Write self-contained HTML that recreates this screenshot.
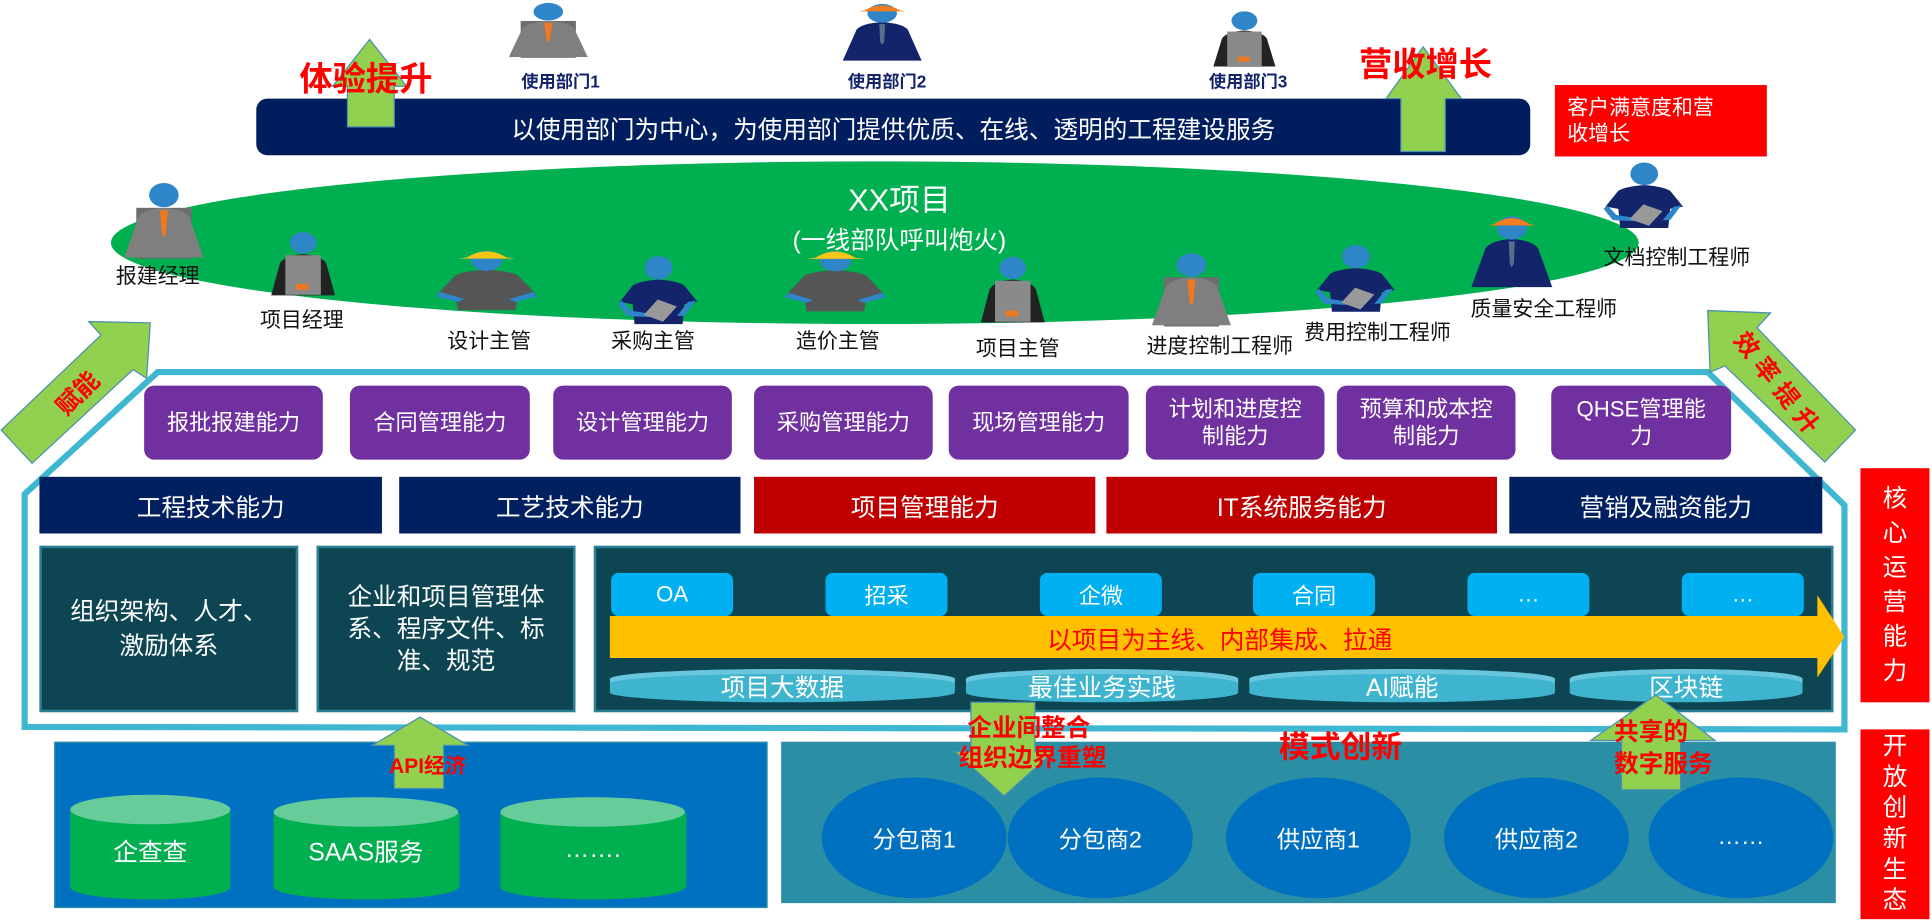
<!DOCTYPE html>
<html><head><meta charset="utf-8"><style>
html,body{margin:0;padding:0;width:1932px;height:924px;overflow:hidden;background:#fff}
#w{position:absolute;left:0;top:0;width:1568px;height:750px;transform:scale(1.2321);transform-origin:0 0;font-family:"Liberation Sans","Noto Sans CJK SC",sans-serif}
.a{position:absolute;display:flex;align-items:center;justify-content:center;text-align:center;color:#fff;box-sizing:border-box}
.p{background:#7030a0;border-radius:8px;font-size:18px;line-height:22px;top:313px;height:60px}
.r2{top:387px;height:46px;font-size:20px}
.c{background:#00b0f0;border-radius:6px;top:465px;height:35px;width:99px;font-size:18px}
.d{top:543px;height:27px;font-size:20px;background:#3fb4cf;border-radius:50%/8px;box-shadow:inset 0 4px 0 #69c6dc}
.t{position:absolute;white-space:nowrap;transform:translate(-50%,-50%)}
.lb{font-size:17px;color:#111}
.red{color:#ff0000;font-weight:bold}
.el{position:absolute;top:631px;width:150px;height:98px;border-radius:50%;background:#0070c0;color:#fff;font-size:19px;display:flex;align-items:center;justify-content:center}
</style></head><body><div id="w">
<svg width="1568" height="750" style="position:absolute;left:0;top:0">
<defs>
<symbol id="gs" viewBox="0 0 100 120" preserveAspectRatio="none"><rect x="22" y="40" width="56" height="80" fill="#6d6d6d"/><path d="M10,118 L24,55 Q30,42 50,40 Q70,42 76,55 L90,118 Z" fill="#7f7f7f"/><path d="M46,44 L54,44 L52,80 L50,86 L48,80Z" fill="#f07820"/><ellipse cx="50" cy="20" rx="15" ry="19" fill="#2e86c8"/></symbol>
<symbol id="ns" viewBox="0 0 100 120" preserveAspectRatio="none"><path d="M10,118 L24,55 Q30,42 50,40 Q70,42 76,55 L90,118 Z" fill="#14246a"/><path d="M47,44 L53,44 L52,80 L50,86 L48,80Z" fill="#55708a"/><ellipse cx="50" cy="22" rx="15" ry="19" fill="#2e86c8"/><path d="M32,16 Q50,-4 68,16 L74,18 L26,18Z" fill="#f47d20"/></symbol>
<symbol id="vs" viewBox="0 0 100 120" preserveAspectRatio="none"><path d="M14,115 L24,58 Q30,44 50,42 Q70,44 76,58 L86,115 Z" fill="#222"/><rect x="30" y="44" width="40" height="70" fill="#8a8a8a"/><rect x="42" y="95" width="14" height="10" fill="#f07820"/><ellipse cx="50" cy="22" rx="15" ry="19" fill="#2e86c8"/></symbol>
<symbol id="gp" viewBox="0 0 100 120" preserveAspectRatio="none"><path d="M6,85 L22,52 Q30,44 50,42 Q70,44 78,52 L94,85 L78,90 L76,115 L24,115 L22,90Z" fill="#555"/><path d="M8,82 L30,95 L24,100 L4,90Z M92,82 L70,95 L76,100 L96,90Z" fill="#2e86c8"/><ellipse cx="50" cy="26" rx="14" ry="18" fill="#2e86c8"/><path d="M32,20 Q50,-2 68,20 L76,22 L24,22Z" fill="#f5c518"/></symbol>
<symbol id="np" viewBox="0 0 100 120" preserveAspectRatio="none"><path d="M8,80 L22,52 Q30,44 50,42 Q70,44 78,52 L92,80 L78,84 L76,118 L24,118 L22,84Z" fill="#14246a"/><path d="M10,78 L20,95 L40,100 L40,106 L16,104 L6,84Z M90,78 L78,104 L70,104 L82,80Z" fill="#2e86c8"/><rect x="40" y="80" width="24" height="30" fill="#999" transform="rotate(30 52 95)"/><ellipse cx="50" cy="22" rx="15" ry="20" fill="#2e86c8"/></symbol>
</defs>
<ellipse cx="710" cy="197" rx="620" ry="66" fill="#00b050"/>
<polygon points="128,302 1386,302 1497,410 1497,592 20,590 20,401" fill="none" stroke="#3fb7d0" stroke-width="5"/>
<rect x="208" y="80" width="1034" height="46" rx="9" fill="#001e5e"/>
<rect x="1262" y="69" width="172" height="58" fill="#ff0000"/>
<use href="#gs" x="405" y="2" width="80" height="45"/>
<use href="#ns" x="676" y="2" width="80" height="48"/>
<use href="#vs" x="975" y="8" width="70" height="48"/>
<use href="#gs" x="93" y="148" width="80" height="62"/>
<use href="#vs" x="210" y="187" width="72" height="55"/>
<use href="#gp" x="350" y="200" width="90" height="54"/>
<use href="#np" x="497" y="207" width="75" height="57"/>
<use href="#gp" x="633" y="200" width="90" height="55"/>
<use href="#vs" x="786" y="207" width="72" height="57"/>
<use href="#gs" x="927" y="205" width="80" height="60"/>
<use href="#np" x="1063" y="198" width="75" height="56"/>
<use href="#ns" x="1186" y="174" width="82" height="60"/>
<use href="#np" x="1297" y="131" width="75" height="55"/>
</svg>

<div class="a" style="left:208px;top:80px;width:1034px;height:46px;font-size:20px">以使用部门为中心，为使用部门提供优质、在线、透明的工程建设服务</div>
<div class="a" style="left:1262px;top:69px;width:172px;height:58px;font-size:17px;line-height:21px;justify-content:flex-start;text-align:left;padding-left:10px">客户满意度和营<br>收增长</div>
<div class="t" style="left:730px;top:161px;color:#fff;font-size:25px">XX项目</div>
<div class="t" style="left:730px;top:193px;color:#fff;font-size:20px">(一线部队呼叫炮火)</div>
<div class="t" style="left:455px;top:66px;font-size:14px;font-weight:bold;color:#14246a">使用部门1</div>
<div class="t" style="left:720px;top:66px;font-size:14px;font-weight:bold;color:#14246a">使用部门2</div>
<div class="t" style="left:1013px;top:66px;font-size:14px;font-weight:bold;color:#14246a">使用部门3</div>
<div class="t lb" style="left:128px;top:222px">报建经理</div>
<div class="t lb" style="left:245px;top:258px">项目经理</div>
<div class="t lb" style="left:397px;top:275px">设计主管</div>
<div class="t lb" style="left:530px;top:275px">采购主管</div>
<div class="t lb" style="left:680px;top:275px">造价主管</div>
<div class="t lb" style="left:826px;top:281px">项目主管</div>
<div class="t lb" style="left:990px;top:279px">进度控制工程师</div>
<div class="t lb" style="left:1118px;top:268px">费用控制工程师</div>
<div class="t lb" style="left:1253px;top:249px">质量安全工程师</div>
<div class="t lb" style="left:1361px;top:207px">文档控制工程师</div>

<div class="a p" style="left:117px;width:145px">报批报建能力</div>
<div class="a p" style="left:284px;width:146px">合同管理能力</div>
<div class="a p" style="left:449px;width:145px">设计管理能力</div>
<div class="a p" style="left:612px;width:145px">采购管理能力</div>
<div class="a p" style="left:770px;width:146px">现场管理能力</div>
<div class="a p" style="left:930px;width:145px">计划和进度控<br>制能力</div>
<div class="a p" style="left:1085px;width:145px">预算和成本控<br>制能力</div>
<div class="a p" style="left:1259px;width:146px">QHSE管理能<br>力</div>

<div class="a r2" style="left:32px;width:278px;background:#002060">工程技术能力</div>
<div class="a r2" style="left:324px;width:277px;background:#002060">工艺技术能力</div>
<div class="a r2" style="left:612px;width:277px;background:#c00000">项目管理能力</div>
<div class="a r2" style="left:898px;width:317px;background:#c00000">IT系统服务能力</div>
<div class="a r2" style="left:1225px;width:254px;background:#002060">营销及融资能力</div>

<div class="a" style="left:32px;top:443px;width:210px;height:135px;background:#0e4553;border:2px solid #2a7f95;font-size:20px;line-height:28px">组织架构、人才、<br>激励体系</div>
<div class="a" style="left:257px;top:443px;width:210px;height:135px;background:#0e4553;border:2px solid #2a7f95;font-size:20px;line-height:26px">企业和项目管理体<br>系、程序文件、标<br>准、规范</div>
<div class="a" style="left:482px;top:443px;width:1006px;height:135px;background:#0e4553;border:2px solid #2a7f95"></div>
<div class="a c" style="left:496px">OA</div>
<div class="a c" style="left:670px">招采</div>
<div class="a c" style="left:844px">企微</div>
<div class="a c" style="left:1017px">合同</div>
<div class="a c" style="left:1191px">…</div>
<div class="a c" style="left:1365px">…</div>
<svg width="1568" height="750" style="position:absolute;left:0;top:0">
<polygon points="495,500 1475,500 1475,483 1497,517 1475,550 1475,534 495,534" fill="#ffc000"/>
</svg>
<div class="t" style="left:990px;top:518px;color:#ff0000;font-size:20px">以项目为主线、内部集成、拉通</div>
<div class="a d" style="left:495px;width:280px">项目大数据</div>
<div class="a d" style="left:784px;width:221px">最佳业务实践</div>
<div class="a d" style="left:1014px;width:248px">AI赋能</div>
<div class="a d" style="left:1274px;width:189px">区块链</div>

<div style="position:absolute;left:44px;top:602px;width:577px;height:133px;background:#0070c0;border:1px solid #2a8fa4"></div>
<div style="position:absolute;left:634px;top:602px;width:856px;height:131px;background:#2a8fa4"></div>
<svg width="1568" height="750" style="position:absolute;left:0;top:0">
<g fill="#00b050"><rect x="57" y="658" width="130" height="62"/><ellipse cx="122" cy="720" rx="65" ry="10"/><rect x="222" y="660" width="151" height="60"/><ellipse cx="297" cy="720" rx="75" ry="10"/><rect x="406" y="660" width="151" height="60"/><ellipse cx="481" cy="720" rx="75" ry="10"/></g>
<g fill="#66cc99"><ellipse cx="122" cy="657" rx="65" ry="12"/><ellipse cx="297" cy="659" rx="75" ry="12"/><ellipse cx="481" cy="659" rx="75" ry="12"/></g>
</svg>
<div class="t" style="left:122px;top:690px;color:#fff;font-size:20px">企查查</div>
<div class="t" style="left:297px;top:690px;color:#fff;font-size:20px">SAAS服务</div>
<div class="t" style="left:481px;top:690px;color:#fff;font-size:20px">…….</div>
<div class="el" style="left:667px">分包商1</div>
<div class="el" style="left:818px">分包商2</div>
<div class="el" style="left:995px">供应商1</div>
<div class="el" style="left:1172px">供应商2</div>
<div class="el" style="left:1338px">……</div>

<svg width="1568" height="750" style="position:absolute;left:0;top:0">
<g fill="#92d050" stroke="#4a8fb0" stroke-width="1">
<polygon points="122,262 72,261 82,272 1,349 26,376 108,300 119,307"/>
<polygon points="1386,252 1437,254 1426,266 1506,349 1481,375 1400,297 1388,302"/>
<polygon points="300,32 270,70 282,70 282,103 320,103 320,70 330,70"/>
<polygon points="1155,38 1125,80 1137,80 1137,123 1173,123 1173,80 1186,80"/>
<polygon points="341,582 302,605 320,605 320,640 360,640 360,605 380,605"/>
<polygon points="788,570 840,570 840,610 855,610 815,646 775,610 788,610"/>
<polygon points="1344,564 1291,601 1316,601 1316,641 1364,641 1364,601 1392,601"/>
</g></svg>
<div class="t red" style="left:297px;top:62px;font-size:27px">体验提升</div>
<div class="t red" style="left:1157px;top:50px;font-size:27px">营收增长</div>
<div class="t red" style="left:62px;top:318px;font-size:20px;transform:translate(-50%,-50%) rotate(-45deg)">赋能</div>
<div class="t red" style="left:1445px;top:312px;font-size:20px;transform:translate(-50%,-50%) rotate(52deg);letter-spacing:6px">效率提升</div>
<div class="t red" style="left:347px;top:620px;font-size:17px">API经济</div>
<div class="t red" style="left:835px;top:589px;font-size:20px">企业间整合</div>
<div class="t red" style="left:838px;top:613px;font-size:20px">组织边界重塑</div>
<div class="t red" style="left:1088px;top:605px;font-size:25px">模式创新</div>
<div class="t red" style="left:1340px;top:592px;font-size:20px">共享的</div>
<div class="t red" style="left:1350px;top:618px;font-size:20px">数字服务</div>

<div class="a" style="left:1510px;top:380px;width:56px;height:190px;background:#ff0000;font-size:20px;line-height:28px">核<br>心<br>运<br>营<br>能<br>力</div>
<div class="a" style="left:1510px;top:592px;width:56px;height:154px;background:#ff0000;font-size:20px;line-height:25px">开<br>放<br>创<br>新<br>生<br>态</div>
</div></body></html>
